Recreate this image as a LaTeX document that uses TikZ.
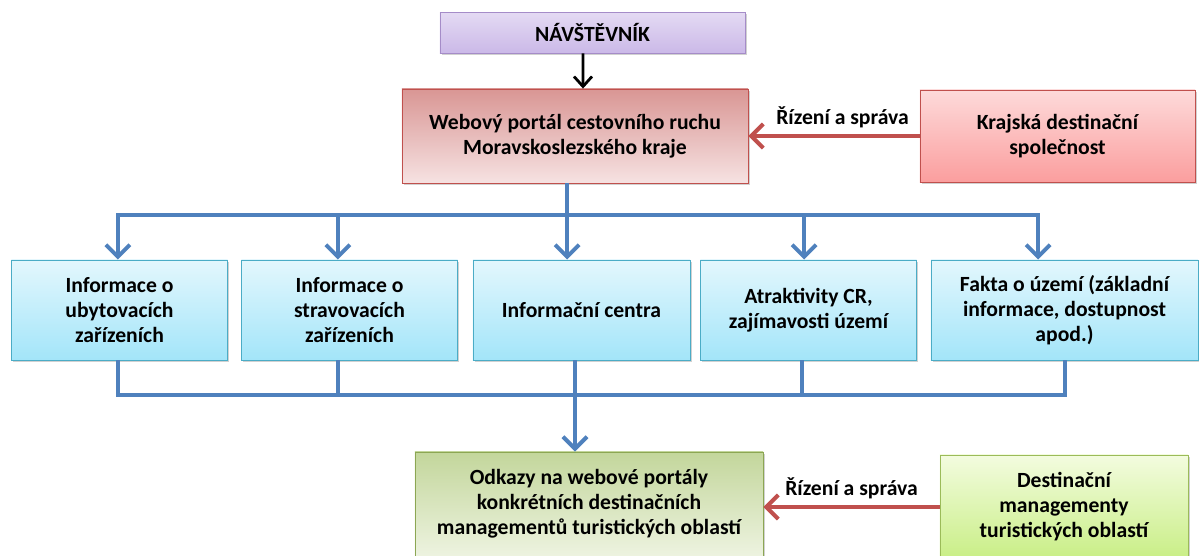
\documentclass[tikz,border=0pt]{standalone}
\usepackage{fontspec}
\setmainfont{Carlito}
\usetikzlibrary{arrows.meta}
\usetikzlibrary{calc}
\usetikzlibrary{shadows}

\definecolor{flowblue}{HTML}{4F81BD}
\definecolor{ctrlred}{HTML}{C0504D}
\definecolor{lilacline}{HTML}{A58CC8}
\definecolor{lilactop}{HTML}{E4DAF3}
\definecolor{lilacbot}{HTML}{CBB9E8}
\definecolor{rosetop}{HTML}{D99694}
\definecolor{rosebot}{HTML}{F6E2E2}
\definecolor{pinktop}{HTML}{FDDADA}
\definecolor{pinkbot}{HTML}{FB9E9E}
\definecolor{skyline}{HTML}{4BACC6}
\definecolor{skytop}{HTML}{E3F7FD}
\definecolor{skybot}{HTML}{A3E5F9}
\definecolor{oliveline}{HTML}{8CA653}
\definecolor{olivetop}{HTML}{C3D69B}
\definecolor{olivebot}{HTML}{EDF3E0}
\definecolor{limeline}{HTML}{9BBB59}
\definecolor{limetop}{HTML}{F3FCDF}
\definecolor{limebot}{HTML}{C9EE86}

\begin{document}
\begin{tikzpicture}[x=0.025cm, y=-0.025cm,
    font=\fontsize{15.4}{17.8}\selectfont\bfseries,
    box/.style={shape=rectangle,
      align=center,
      line width=0.6pt,
      drop shadow={shadow xshift=1.2pt, shadow yshift=-1.2pt,
        opacity=0.3, fill=black!60}},
    infobox/.style={box,
      draw=skyline,
      top color=skytop,
      bottom color=skybot,
      minimum width=54mm,
      minimum height=25mm},
    flow/.style={draw=flowblue, line width=1mm},
    flowarrow/.style={flow, -{Straight Barb[length=3mm,width=6mm]}},
    ctrl/.style={draw=ctrlred, line width=1mm,
      -{Straight Barb[length=3mm,width=6mm]}}]

    \useasboundingbox (0,0) rectangle (1199,555);

    \node[name=visitor,
      box,
      draw=lilacline,
      top color=lilactop,
      bottom color=lilacbot,
      minimum width=76.25mm,
      minimum height=10.25mm] at (592.5,32.5) {NÁVŠTĚVNÍK};

    \node[name=portal,
      box,
      draw=ctrlred,
      top color=rosetop,
      bottom color=rosebot,
      minimum width=86.5mm,
      minimum height=23.5mm] at (575,136) {Webový portál cestovního ruchu\\Moravskoslezského kraje};

    \node[name=krajska,
      box,
      draw=ctrlred,
      top color=pinktop,
      bottom color=pinkbot,
      minimum width=68.75mm,
      minimum height=23mm] at (1057.5,136) {Krajská destinační\\společnost};

    \node[name=info1, infobox] at (119.5,310) {Informace o\\ubytovacích\\zařízeních};
    \node[name=info2, infobox] at (349.5,310) {Informace o\\stravovacích\\zařízeních};
    \node[name=info3, infobox, minimum width=54.25mm] at (581.5,310) {Informační centra};
    \node[name=info4, infobox] at (808.5,310) {Atraktivity CR,\\zajímavosti území};
    \node[name=info5, infobox, minimum width=66.75mm] at (1064.5,310) {Fakta o území (základní\\informace, dostupnost\\apod.)};

    \node[name=odkazy,
      box,
      draw=oliveline,
      top color=olivetop,
      bottom color=olivebot,
      minimum width=87mm,
      minimum height=26mm] at (589,504) {Odkazy na webové portály\\konkrétních destinačních\\managementů turistických oblastí};

    \node[name=dest,
      box,
      draw=limeline,
      top color=limetop,
      bottom color=limebot,
      minimum width=62mm,
      minimum height=26mm] at (1064,507) {Destinační\\managementy\\turistických oblastí};

    \coordinate (topbus) at (567,215);
    \coordinate (lowbus) at (575,395);

    % visitor to portal
    \draw[line width=0.7mm, -{Straight Barb[length=2.5mm,width=4.5mm]}]
      ([xshift=-2.375mm]visitor.south) -- ([xshift=2mm]portal.north);

    % portal to the five boxes
    \draw[flow] (portal.south -| topbus) -- (topbus);
    \foreach \n/\dx in {info1/-0.4mm, info2/-2.9mm, info3/-3.6mm, info4/-1.1mm, info5/-6.6mm}
      \draw[flowarrow] (topbus) -| ([xshift=\dx]\n.north);

    % the five boxes to odkazy
    \foreach \n/\dx in {info1/-0.4mm, info2/-2.9mm, info3/-1.6mm, info4/-1.6mm, info5/0mm}
      \draw[flow] ([xshift=\dx]\n.south) |- (lowbus);
    \draw[flowarrow] (lowbus) -- (odkazy.north -| lowbus);

    % management
    \draw[ctrl] (krajska.west) -- node[above, pos=0.45, yshift=1pt] {Řízení a správa} (portal.east);
    \draw[ctrl] (dest.west) -- node[above, pos=0.5, yshift=1pt] {Řízení a správa} (dest.west -| odkazy.east);

  \end{tikzpicture}
\end{document}
